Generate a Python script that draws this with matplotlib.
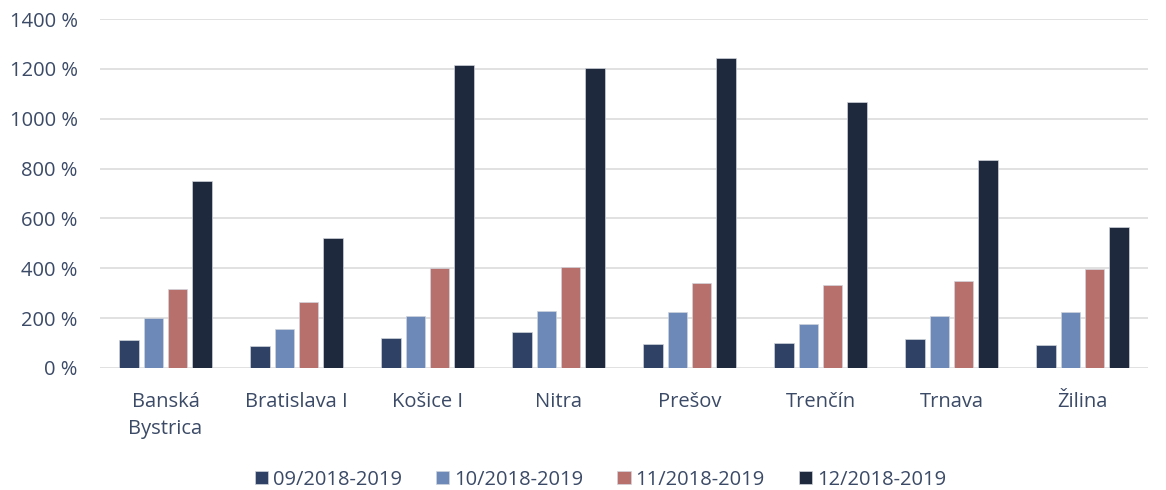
import numpy as np
import matplotlib
matplotlib.use("Agg")
import matplotlib.pyplot as plt
from matplotlib.ticker import FuncFormatter

# Data
regions = ["Banská\nBystrica", "Bratislava I", "Košice I", "Nitra", "Prešov",
           "Trenčín", "Trnava", "Žilina"]
series_names = ["09/2018-2019", "10/2018-2019", "11/2018-2019", "12/2018-2019"]
values_09 = [113, 88, 120, 143, 95, 101, 115, 91]
values_10 = [202, 156, 207, 228, 224, 176, 208, 224]
values_11 = [317, 264, 400, 404, 340, 334, 351, 398]
values_12 = [749, 520, 1214, 1203, 1242, 1067, 836, 567]

colors = ["#2f4265", "#6d89b7", "#b8706d", "#1e293d"]
text_color = "#3b4a66"
fs = 14.5

plt.rcParams["font.family"] = ["Open Sans", "DejaVu Sans"]

fig = plt.figure(figsize=(11.66, 4.9), dpi=100)
ax = fig.add_axes([0.0858, 0.249, 0.8988, 0.712])

x = np.arange(len(regions))
width = 0.148
step = 0.185
all_series = [values_09, values_10, values_11, values_12]
for i, (vals, name) in enumerate(zip(all_series, series_names)):
    ax.bar(x + (i - 1.5) * step, vals, width, color=colors[i], label=name,
           edgecolor="#d0d4dc", linewidth=0.5, zorder=3)

ax.set_xlim(-0.5, len(regions) - 0.5)
ax.set_ylim(0, 1400)
ax.set_yticks(np.arange(0, 1401, 200))
ax.yaxis.set_major_formatter(FuncFormatter(lambda v, p: f"{int(v)} %"))
ax.set_xticks(x)
ax.set_xticklabels(regions, linespacing=1.5)

ax.grid(axis="y", color="#d9d9d9", linewidth=1.1, zorder=0)
for s in ax.spines.values():
    s.set_visible(False)
ax.tick_params(axis="both", length=0, labelsize=fs, labelcolor=text_color)
ax.tick_params(axis="y", pad=16)
ax.tick_params(axis="x", pad=17)

fig.legend(loc="center", bbox_to_anchor=(0.515, 0.021), ncol=4,
           frameon=False, fontsize=fs, labelcolor=text_color,
           handlelength=0.65, handleheight=0.65, handletextpad=0.25,
           columnspacing=1.7)

plt.savefig("out.png", dpi=100)
plt.close()
